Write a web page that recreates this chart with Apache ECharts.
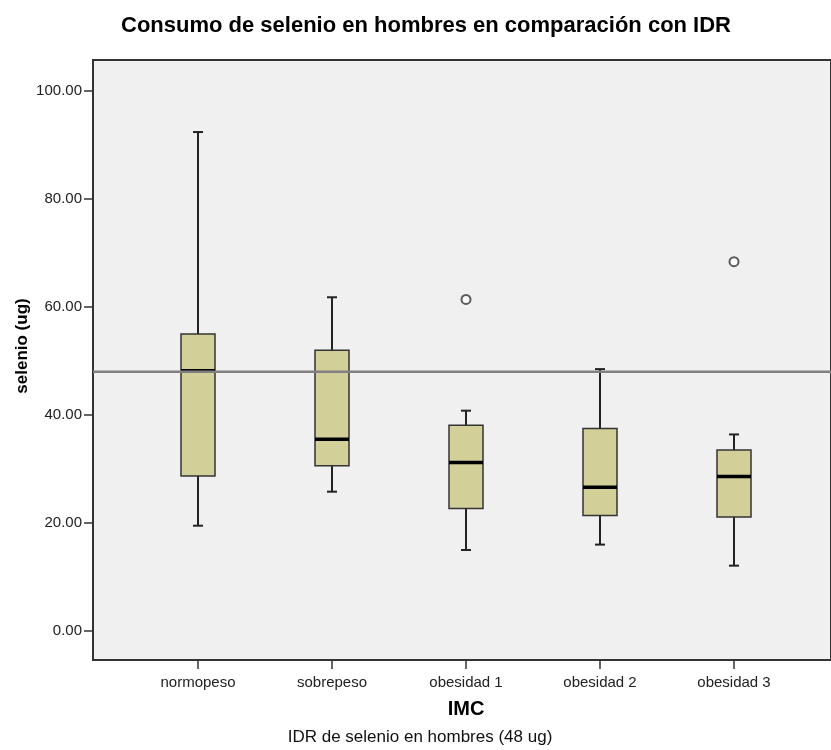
<!DOCTYPE html>
<html>
<head>
<meta charset="utf-8">
<script src="https://cdn.jsdelivr.net/npm/echarts@6/dist/echarts.min.js"></script>
<style>
  html, body { margin: 0; padding: 0; background: #ffffff; }
  #chart { width: 831px; height: 750px; }
</style>
</head>
<body>
<div id="chart"></div>
<script>
  // grupos de IMC
  var categories = ['normopeso', 'sobrepeso', 'obesidad 1', 'obesidad 2', 'obesidad 3']
  // [min, Q1, mediana, Q3, max] por grupo
  var whiskerLow = [19.5, 25.8, 15.0, 16.0, 12.1]
  var q1 = [28.7, 30.6, 22.7, 21.4, 21.1]
  var medians = [48.2, 35.5, 31.2, 26.6, 28.6]
  var q3 = [55.0, 52.0, 38.1, 37.5, 33.5]
  var whiskerHigh = [92.4, 61.8, 40.8, 48.5, 36.4]
  // atipicos [indice grupo, valor]
  var outliers = [[2, 61.4], [4, 68.4]]
  var idr = 48
  var tickValues = [0, 20, 40, 60, 80, 100]

  var font = 'Liberation Sans, Arial, sans-serif'
  var yMin = -5.37
  var yMax = 105.74

  var boxData = []
  for (var i = 0; i < categories.length; i++) {
    boxData.push([i, whiskerLow[i], q1[i], medians[i], q3[i], whiskerHigh[i]])
  }

  function renderBox(params, api) {
    var x = api.value(0)
    var pLow = api.coord([x, api.value(1)])
    var pQ1 = api.coord([x, api.value(2)])
    var pMed = api.coord([x, api.value(3)])
    var pQ3 = api.coord([x, api.value(4)])
    var pHigh = api.coord([x, api.value(5)])
    var cx = pMed[0]
    var half = 17
    var cap = 5
    var wStyle = { stroke: '#222', lineWidth: 2 }
    return {
      type: 'group',
      children: [
        { type: 'line', shape: { x1: cx, y1: pQ1[1], x2: cx, y2: pLow[1] }, style: wStyle },
        { type: 'line', shape: { x1: cx, y1: pQ3[1], x2: cx, y2: pHigh[1] }, style: wStyle },
        { type: 'line', shape: { x1: cx - cap, y1: pLow[1], x2: cx + cap, y2: pLow[1] }, style: wStyle },
        { type: 'line', shape: { x1: cx - cap, y1: pHigh[1], x2: cx + cap, y2: pHigh[1] }, style: wStyle },
        {
          type: 'rect',
          shape: { x: cx - half, y: pQ3[1], width: half * 2, height: pQ1[1] - pQ3[1] },
          style: { fill: '#d3cf98', stroke: '#333', lineWidth: 1.5 }
        },
        { type: 'line', shape: { x1: cx - half, y1: pMed[1], x2: cx + half, y2: pMed[1] }, style: { stroke: '#000', lineWidth: 3.5 } }
      ]
    }
  }

  var myChart = echarts.init(document.getElementById('chart'))
  var option = {
    backgroundColor: '#ffffff',
    animation: false,
    title: {
      text: 'Consumo de selenio en hombres en comparación con IDR',
      left: 421,
      textAlign: 'center',
      top: 10,
      textStyle: { fontFamily: font, fontSize: 22, fontWeight: 'bold', color: '#000' }
    },
    grid: [
      {
        left: 93, right: -3, top: 60, bottom: 90,
        show: true, backgroundColor: '#f0f0f0', borderColor: '#333', borderWidth: 2
      },
      { left: 131, width: 670, top: 60, bottom: 90 }
    ],
    xAxis: [
      { type: 'value', gridIndex: 0, min: 0, max: 1, show: false },
      {
        type: 'category',
        gridIndex: 1,
        data: categories,
        axisLine: { show: false, onZero: false },
        axisTick: { show: true, alignWithLabel: true, length: 9, lineStyle: { color: '#333', width: 1.5 } },
        axisLabel: { fontFamily: font, fontSize: 15, color: '#222', margin: 15 },
        name: 'IMC',
        nameLocation: 'middle',
        nameGap: 39,
        nameTextStyle: { fontFamily: font, fontSize: 20, fontWeight: 'bold', color: '#000' }
      }
    ],
    yAxis: [
      {
        type: 'value',
        gridIndex: 0,
        min: yMin,
        max: yMax,
        axisLine: { show: false },
        splitLine: { show: false },
        axisTick: { show: true, length: 9, customValues: tickValues, lineStyle: { color: '#333', width: 1.5 } },
        axisLabel: {
          fontFamily: font, fontSize: 15, color: '#222', margin: 11,
          customValues: tickValues,
          formatter: function (v) { return v.toFixed(2) }
        }
      },
      { type: 'value', gridIndex: 1, min: yMin, max: yMax, show: false }
    ],
    graphic: [
      {
        type: 'text',
        x: 22, y: 346,
        rotation: Math.PI / 2,
        style: {
          text: 'selenio (ug)',
          fontFamily: font, fontSize: 17, fontWeight: 'bold', fill: '#000',
          align: 'center', verticalAlign: 'middle'
        }
      },
      {
        type: 'text',
        x: 420, y: 737,
        style: {
          text: 'IDR de selenio en hombres (48 ug)',
          fontFamily: font, fontSize: 17, fill: '#111',
          align: 'center', verticalAlign: 'middle'
        }
      }
    ],
    series: [
      {
        type: 'custom',
        xAxisIndex: 1,
        yAxisIndex: 1,
        renderItem: renderBox,
        data: boxData,
        z: 3
      },
      {
        type: 'scatter',
        xAxisIndex: 1,
        yAxisIndex: 1,
        symbol: 'emptyCircle',
        symbolSize: 9,
        itemStyle: { color: '#333', borderColor: '#333', borderWidth: 1.5 },
        data: outliers,
        z: 4
      },
      {
        type: 'line',
        xAxisIndex: 0,
        yAxisIndex: 0,
        symbol: 'none',
        lineStyle: { color: '#808080', width: 2.5 },
        data: [[0, idr], [1, idr]],
        z: 5
      }
    ]
  }
  myChart.setOption(option)
</script>
</body>
</html>
